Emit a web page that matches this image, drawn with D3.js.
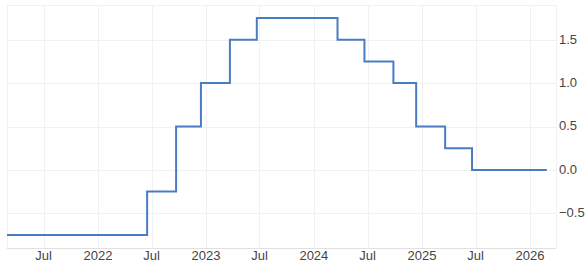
<!DOCTYPE html>
<html>
<head>
<meta charset="utf-8">
<script src="https://cdn.jsdelivr.net/npm/d3@7"></script>
<style>
  html, body { margin: 0; padding: 0; background: #fff; }
  svg { display: block; font-family: "Liberation Sans", Arial, sans-serif; }
  .grid line { stroke: #f1f1f1; stroke-width: 1; }
  .lbl { fill: #444; font-size: 13px; }
</style>
</head>
<body>
<div id="chart"></div>
<script>
const w = 585;
const h = 269;

// policy rate changes (step dates) and the rate from that date on
const rateDates = ["2021-02-27", "2022-06-16", "2022-09-22", "2022-12-15", "2023-03-23", "2023-06-22",
    "2024-03-21", "2024-06-20", "2024-09-26", "2024-12-12", "2025-03-20", "2025-06-19", "2026-02-27"];
const rateValues = [-0.75, -0.25, 0.5, 1.0, 1.5, 1.75, 1.5, 1.25, 1.0, 0.5, 0.25, 0.0, 0.0];

const xTickDates = ["2021-07-01", "2022-01-01", "2022-07-01", "2023-01-01", "2023-07-01",
    "2024-01-01", "2024-07-01", "2025-01-01", "2025-07-01", "2026-01-01"];
const xTickLabels = ["Jul", "2022", "Jul", "2023", "Jul", "2024", "Jul", "2025", "Jul", "2026"];
const yTicks = [-0.5, 0.0, 0.5, 1.0, 1.5];

const parse = d3.utcParse("%Y-%m-%d");
const data = rateDates.map((d, i) => ({date: parse(d), value: rateValues[i]}));

const plotL = 7, plotR = 556, plotT = 5, plotB = 248;

const x = d3.scaleUtc()
    .domain([parse("2021-02-27"), parse("2026-03-30")])
    .range([plotL, plotR]);
const y = d3.scaleLinear()
    .domain([-0.9, 1.9])
    .range([plotB, plotT]);

const svg = d3.select("#chart").append("svg")
    .attr("width", w).attr("height", h);

// grid
const grid = svg.append("g").attr("class", "grid");
grid.selectAll("line.v")
    .data(xTickDates)
    .enter().append("line")
    .attr("class", "v")
    .attr("x1", d => Math.round(x(parse(d))) + 0.5)
    .attr("x2", d => Math.round(x(parse(d))) + 0.5)
    .attr("y1", plotT)
    .attr("y2", plotB);
grid.selectAll("line.h")
    .data(yTicks)
    .enter().append("line")
    .attr("class", "h")
    .attr("x1", plotL)
    .attr("x2", plotR)
    .attr("y1", d => Math.round(y(d)) + 0.5)
    .attr("y2", d => Math.round(y(d)) + 0.5);

// frame
grid.append("line").attr("x1", plotL).attr("x2", plotR).attr("y1", plotT + 0.5).attr("y2", plotT + 0.5);
grid.append("line").attr("x1", plotL + 0.5).attr("x2", plotL + 0.5).attr("y1", plotT).attr("y2", plotB);
grid.append("line").attr("x1", plotR + 0.5).attr("x2", plotR + 0.5).attr("y1", plotT).attr("y2", plotB);
svg.append("line")
    .attr("x1", plotL).attr("x2", plotR)
    .attr("y1", plotB + 0.5).attr("y2", plotB + 0.5)
    .attr("stroke", "#e0e0e0");

// rate line
const line = d3.line()
    .x(d => x(d.date))
    .y(d => y(d.value))
    .curve(d3.curveStepAfter);

svg.append("path")
    .datum(data)
    .attr("fill", "none")
    .attr("stroke", "#4a7cc3")
    .attr("stroke-width", 2)
    .attr("d", line);

// x labels
svg.selectAll("text.xl")
    .data(xTickDates)
    .enter().append("text")
    .attr("class", "lbl xl")
    .attr("x", d => x(parse(d)))
    .attr("y", 260)
    .attr("text-anchor", "middle")
    .text((d, i) => xTickLabels[i]);

// y labels
svg.selectAll("text.yl")
    .data(yTicks)
    .enter().append("text")
    .attr("class", "lbl yl")
    .attr("x", 559)
    .attr("y", d => y(d))
    .attr("dy", "0.3em")
    .text(d => d3.format(".1f")(d));
</script>
</body>
</html>
